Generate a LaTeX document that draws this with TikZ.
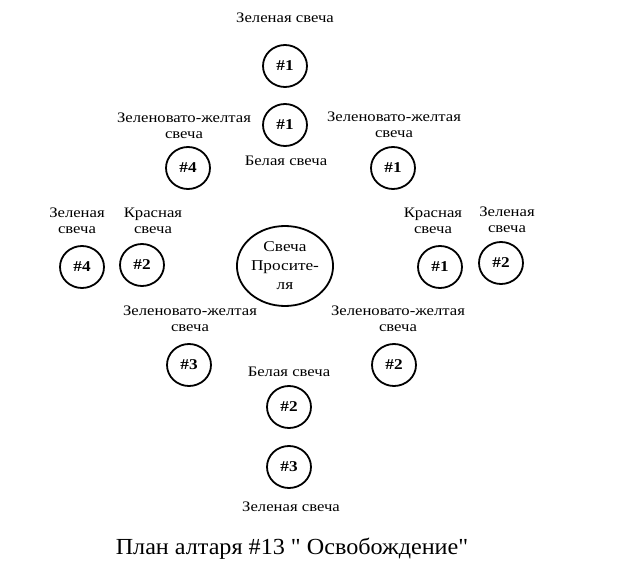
\documentclass[tikz,border=0pt]{standalone}
\usepackage{fontspec}
\setmainfont{Liberation Serif}
\newfontfamily\widefont[FakeStretch=1.15]{Liberation Serif}
\newfontfamily\titlefont[FakeStretch=1.05,Ligatures=NoCommon]{Liberation Serif}
\usetikzlibrary{shapes.geometric}
\tikzset{
  candle/.style={draw, line width=1.8pt, shape=ellipse, minimum width=44pt, minimum height=42pt, inner sep=0pt, font=\widefont\fontsize{15}{15}\selectfont\bfseries},
  bigcandle/.style={draw, line width=1.8pt, shape=ellipse, minimum width=85pt, minimum height=80pt, inner sep=0pt, align=center, font=\widefont\fontsize{15}{19}\selectfont},
  lbl/.style={align=center, inner sep=0pt, font=\widefont\fontsize{14.5}{16}\selectfont},
}
\begin{document}
\begin{tikzpicture}[x=1pt,y=-1pt]
\useasboundingbox (0,0) rectangle (625,578);
% candles
\node[candle] (g1) at (285,66) {\#1};
\node[candle] (w1) at (285,125) {\#1};
\node[candle] (y4) at (188,168) {\#4};
\node[candle] (y1) at (393,168) {\#1};
\node[candle] (g4) at (82,267) {\#4};
\node[candle] (r2) at (142,265) {\#2};
\node[bigcandle] (pet) at (285,266) {Свеча\\Просите-\\ля};
\node[candle] (r1) at (440,267) {\#1};
\node[candle] (g2) at (501,263) {\#2};
\node[candle] (y3) at (189,365) {\#3};
\node[candle] (y2) at (394,365) {\#2};
\node[candle] (w2) at (289,407) {\#2};
\node[candle] (g3) at (289,467) {\#3};
% labels
\node[lbl] (lg1) at (285,18) {Зеленая свеча};
\node[lbl] (ly4) at (184,126) {Зеленовато-желтая\\свеча};
\node[lbl] (ly1) at (394,125) {Зеленовато-желтая\\свеча};
\node[lbl] (lw1) at (286,161) {Белая свеча};
\node[lbl] (lg4) at (77,221) {Зеленая\\свеча};
\node[lbl] (lr2) at (153,221) {Красная\\свеча};
\node[lbl] (lr1) at (433,221) {Красная\\свеча};
\node[lbl] (lg2) at (507,220) {Зеленая\\свеча};
\node[lbl] (ly3) at (190,319) {Зеленовато-желтая\\свеча};
\node[lbl] (ly2) at (398,319) {Зеленовато-желтая\\свеча};
\node[lbl] (lw2) at (289,372) {Белая свеча};
\node[lbl] (lg3) at (291,507) {Зеленая свеча};
\node[inner sep=0pt, font=\titlefont\fontsize{23}{23}\selectfont] (title) at (292,549) {План алтаря \#13 \symbol{34} Освобождение\symbol{34}};
\end{tikzpicture}
\end{document}
